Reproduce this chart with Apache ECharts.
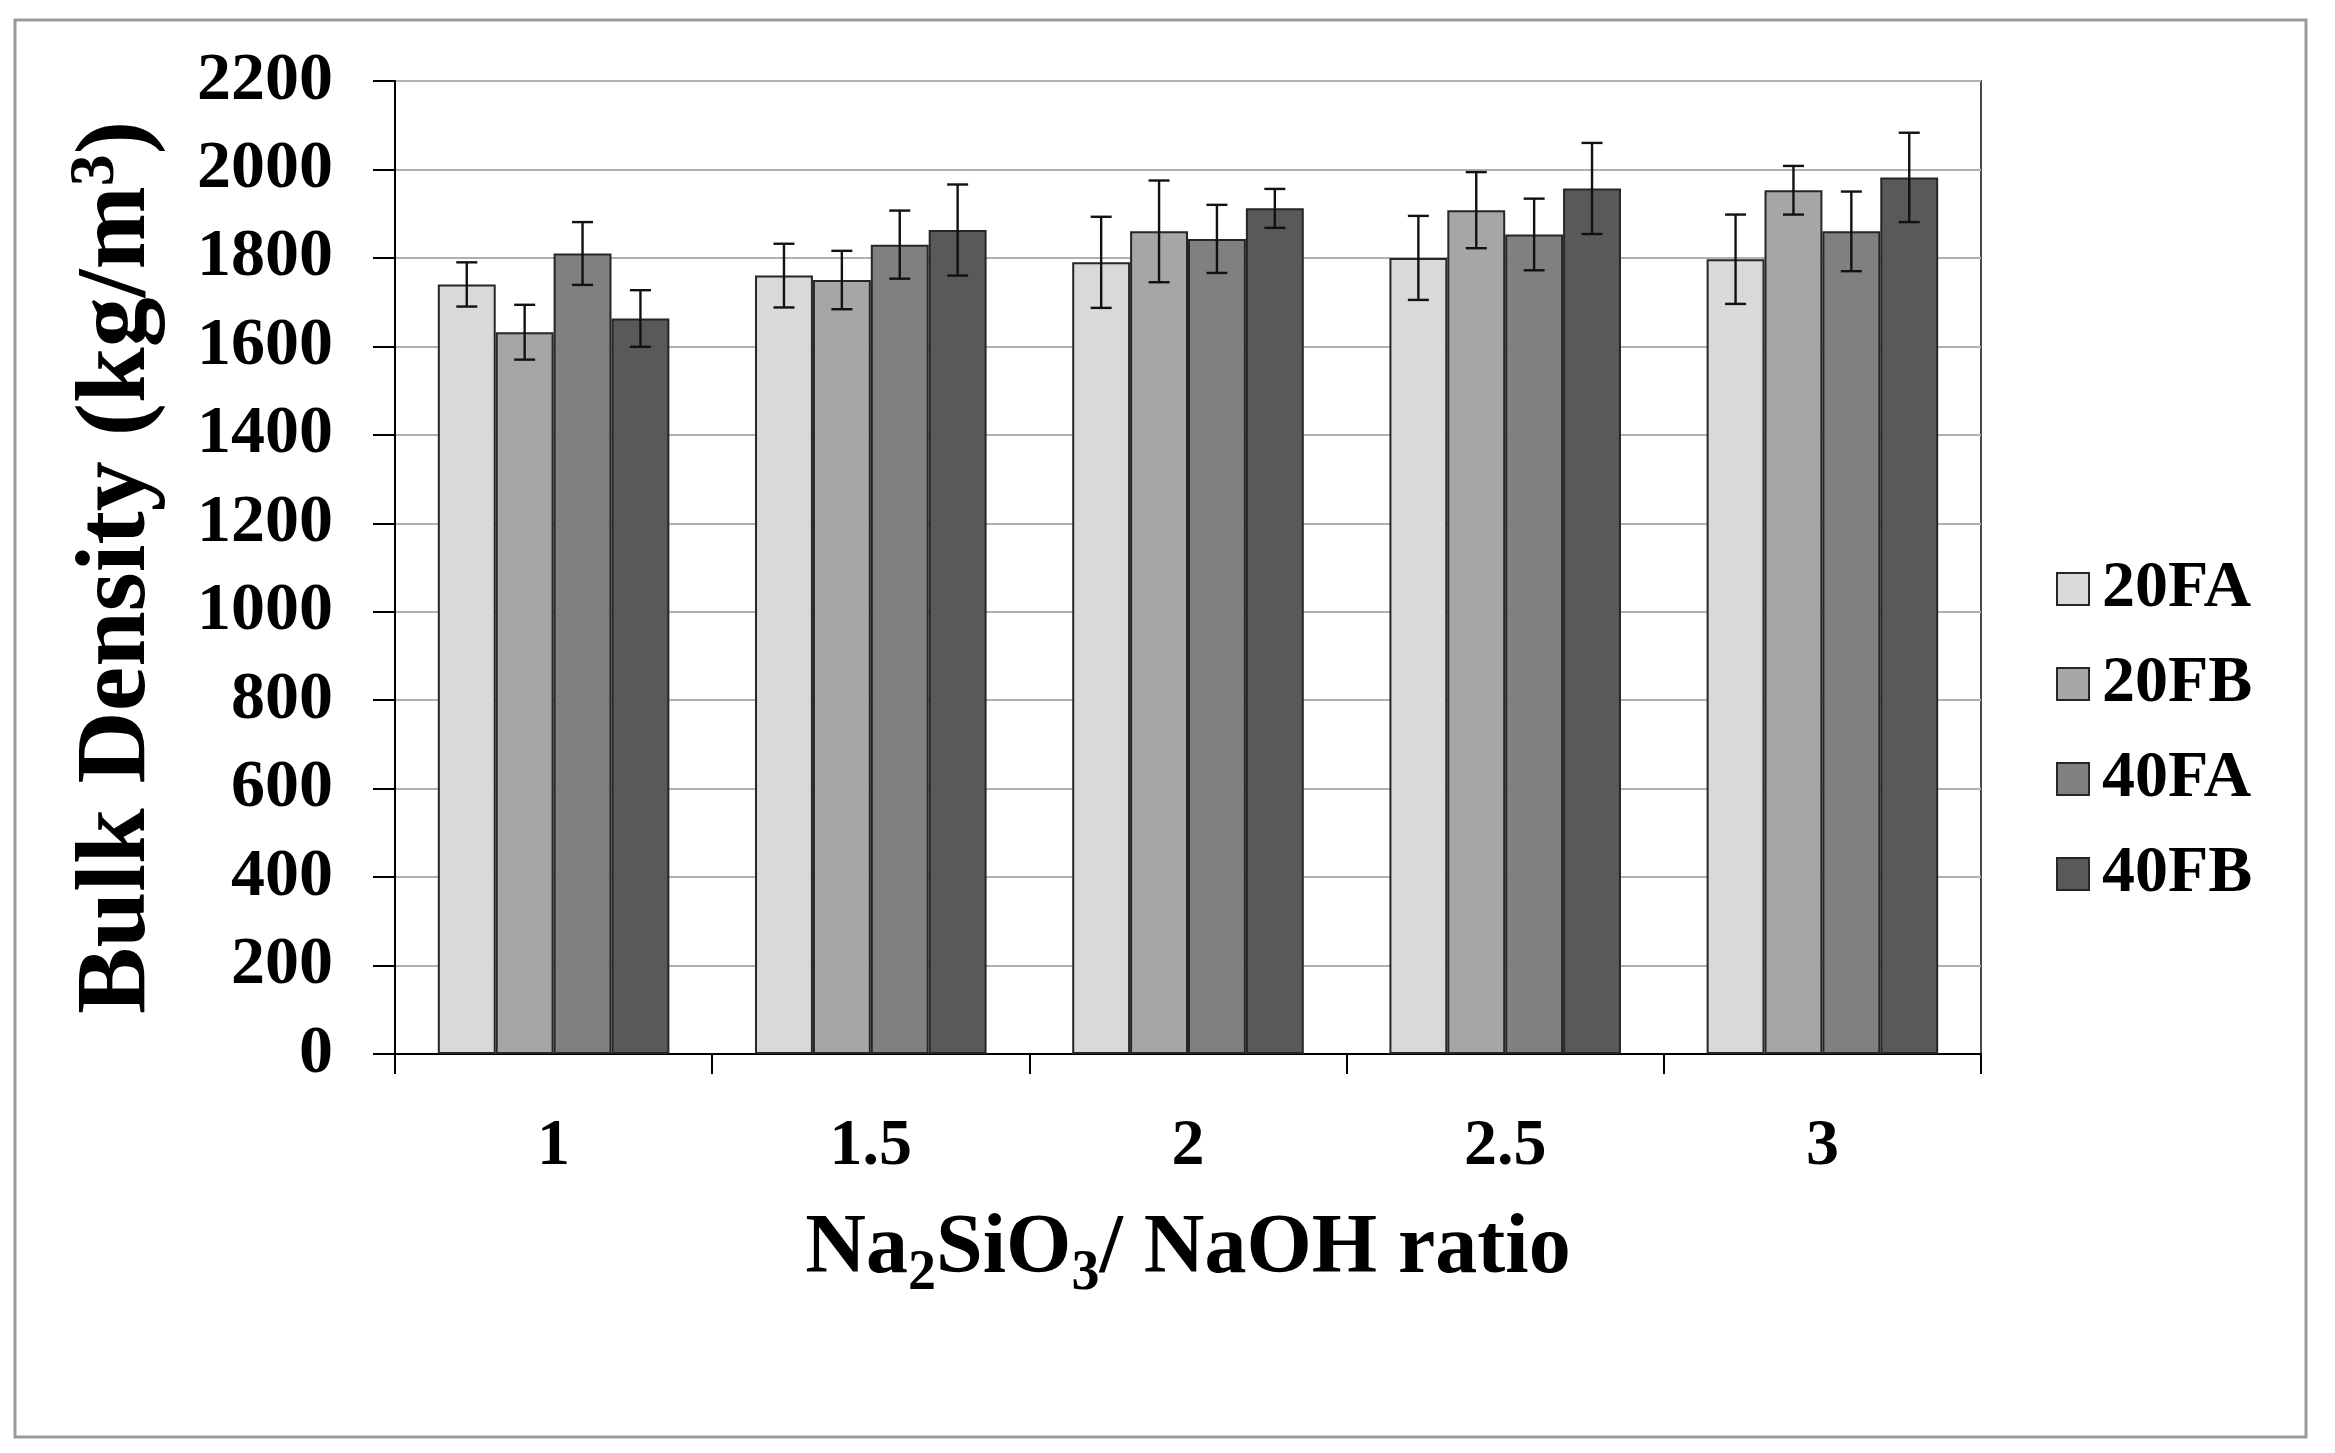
<!DOCTYPE html>
<html>
<head>
<meta charset="utf-8">
<script src="https://cdn.jsdelivr.net/npm/echarts@6/dist/echarts.min.js"></script>
<style>
html,body{margin:0;padding:0;background:#fff;}
#chart{width:2335px;height:1453px;}
</style>
</head>
<body>
<div id="chart"></div>
<script>
const categories = ['1', '1.5', '2', '2.5', '3'];
const seriesNames = ['20FA', '20FB', '40FA', '40FB'];
const vals20FA = [1740, 1760, 1790, 1800, 1797];
const vals20FB = [1632, 1750, 1860, 1908, 1953];
const vals40FA = [1810, 1830, 1843, 1853, 1860];
const vals40FB = [1663, 1863, 1912, 1957, 1982];
const err20FA = [50, 72, 103, 95, 101];
const err20FB = [62, 66, 115, 86, 55];
const err40FA = [71, 77, 77, 81, 90];
const err40FB = [64, 103, 44, 103, 101];
const yTicks = {min: 0, max: 2200, interval: 200};

const colors = ['#d9d9d9', '#a6a6a6', '#808080', '#595959'];
const allVals = [vals20FA, vals20FB, vals40FA, vals40FB];
const allErr = [err20FA, err20FB, err40FA, err40FB];
const catGap = 0.27;
const FONT = '"Liberation Serif", "Times New Roman", serif';

function errRender(sIdx) {
  return function (params, api) {
    const cat = api.value(0), lo = api.value(1), hi = api.value(2);
    const band = api.size([1, 0])[0];
    const barW = band * (1 - catGap) / 4;
    const cx = api.coord([cat, 0])[0] - band * (1 - catGap) / 2 + barW * (sIdx + 0.5);
    const yl = api.coord([cat, lo])[1];
    const yh = api.coord([cat, hi])[1];
    const cap = 10.5;
    const st = {stroke: '#111', lineWidth: 2.4};
    return {
      type: 'group',
      children: [
        {type: 'line', shape: {x1: cx, y1: yh, x2: cx, y2: yl}, style: st},
        {type: 'line', shape: {x1: cx - cap, y1: yh, x2: cx + cap, y2: yh}, style: st},
        {type: 'line', shape: {x1: cx - cap, y1: yl, x2: cx + cap, y2: yl}, style: st}
      ]
    };
  };
}

const series = [];
seriesNames.forEach((name, i) => {
  series.push({
    name: name,
    type: 'bar',
    data: allVals[i],
    barGap: '0%',
    barCategoryGap: (catGap * 100) + '%',
    itemStyle: {color: colors[i], borderColor: '#262626', borderWidth: 2},
    emphasis: {disabled: true},
    z: 2
  });
});
seriesNames.forEach((name, i) => {
  series.push({
    name: name + ' err',
    type: 'custom',
    renderItem: errRender(i),
    data: allVals[i].map((v, k) => [k, v - allErr[i][k], v + allErr[i][k]]),
    encode: {x: 0, y: [1, 2]},
    z: 5,
    silent: true
  });
});

const chart = echarts.init(document.getElementById('chart'));
chart.setOption({
  animation: false,
  backgroundColor: '#fff',
  textStyle: {fontFamily: FONT},
  graphic: [{
    type: 'rect',
    shape: {x: 15, y: 20, width: 2291, height: 1417},
    style: {fill: 'none', stroke: '#9a9a9a', lineWidth: 3},
    silent: true
  }],
  grid: {
    left: 395, top: 81, right: 354, bottom: 399,
    show: true, borderColor: '#4a4a4a', borderWidth: 2, backgroundColor: 'transparent'
  },
  legend: {
    data: seriesNames,
    orient: 'vertical',
    left: 2051,
    top: 551,
    itemWidth: 32,
    itemHeight: 32,
    itemGap: 29,
    icon: 'rect',
    textStyle: {fontFamily: FONT, fontWeight: 'bold', fontSize: 66, lineHeight: 66, color: '#000', padding: [0, 0, 0, 8]}
  },
  xAxis: {
    type: 'category',
    data: categories,
    axisLine: {lineStyle: {color: '#000', width: 2}},
    axisTick: {show: true, length: 20, lineStyle: {color: '#000', width: 2}},
    axisLabel: {fontFamily: FONT, fontWeight: 'bold', fontSize: 66, color: '#000', margin: 60},
    name: '{n|Na}{s|2}{n|SiO}{s|3}{n|/ NaOH ratio}',
    nameLocation: 'middle',
    nameGap: 146,
    nameTextStyle: {
      rich: {
        n: {fontFamily: FONT, fontWeight: 'bold', fontSize: 84, color: '#000', lineHeight: 100},
        s: {fontFamily: FONT, fontWeight: 'bold', fontSize: 56, color: '#000', lineHeight: 100, padding: [50, 0, 0, 0]}
      }
    }
  },
  yAxis: {
    type: 'value',
    min: yTicks.min, max: yTicks.max, interval: yTicks.interval,
    axisLine: {show: true, lineStyle: {color: '#000', width: 2}},
    axisTick: {show: true, length: 22, lineStyle: {color: '#000', width: 2}},
    axisLabel: {fontFamily: FONT, fontWeight: 'bold', fontSize: 68, color: '#000', margin: 62, formatter: v => String(v)},
    splitLine: {lineStyle: {color: '#b0b0b0', width: 2}},
    name: '{n|Bulk Density (kg/m}{s|3}{n|)}',
    nameLocation: 'middle',
    nameRotate: 90,
    nameGap: 222,
    nameTextStyle: {
      rich: {
        n: {fontFamily: FONT, fontWeight: 'bold', fontSize: 100, color: '#000', lineHeight: 110},
        s: {fontFamily: FONT, fontWeight: 'bold', fontSize: 64, color: '#000', lineHeight: 110, padding: [0, 0, 44, 0]}
      }
    }
  },
  series: series
});
</script>
</body>
</html>
